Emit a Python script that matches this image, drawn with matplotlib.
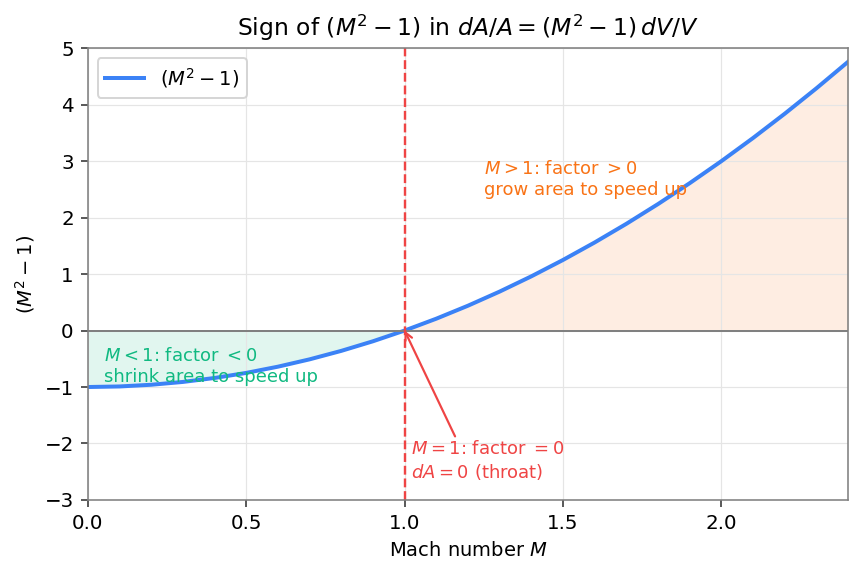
import numpy as np
import matplotlib.pyplot as plt

# Mach number samples and the factor (M^2 - 1)
mach = [0.0, 0.1, 0.2, 0.3, 0.4, 0.5, 0.6, 0.7, 0.8, 0.9, 1.0, 1.1, 1.2,
        1.3, 1.4, 1.5, 1.6, 1.7, 1.8, 1.9, 2.0, 2.1, 2.2, 2.3, 2.4]
factor = [-1.0, -0.99, -0.96, -0.91, -0.84, -0.75, -0.64, -0.51, -0.36,
          -0.19, 0.0, 0.21, 0.44, 0.69, 0.96, 1.25, 1.56, 1.89, 2.24,
          2.61, 3.0, 3.41, 3.84, 4.29, 4.76]

blue = '#3b82f6'
green = '#10b981'
orange = '#f97316'
red = '#ef4444'

x = np.array(mach)
y = np.array(factor)

fig, ax = plt.subplots(figsize=(6, 4), dpi=143.5)

ax.fill_between(x, y, 0, where=x <= 1, color=green, alpha=0.12, linewidth=0)
ax.fill_between(x, y, 0, where=x >= 1, color=orange, alpha=0.12, linewidth=0)
ax.plot(x, y, color=blue, lw=2, label=r'$(M^2-1)$')
ax.axhline(0, color='gray', lw=1)
ax.axvline(1, color=red, lw=1.2, ls='--')

ax.text(0.05, -0.63, r'$M<1$: factor $<0$' + '\nshrink area to speed up',
        color=green, fontsize=9, va='center')
ax.text(1.25, 2.68, r'$M>1$: factor $>0$' + '\ngrow area to speed up',
        color=orange, fontsize=9, va='center')
ax.annotate(r'$M=1$: factor $=0$' + '\n' + r'$dA=0$ (throat)',
            xy=(1.0, 0.0), xytext=(1.02, -2.31), color=red, fontsize=9,
            va='center',
            arrowprops=dict(arrowstyle='->', color=red, lw=1.1,
                            shrinkA=0, shrinkB=0, relpos=(0.3, 1.0)))

ax.set_xlim(0, 2.4)
ax.set_ylim(-3, 5)
ax.set_xticks([0.0, 0.5, 1.0, 1.5, 2.0])
ax.grid(True, color='#e5e5e5', lw=0.6)
for s in ax.spines.values():
    s.set_color('gray')
ax.tick_params(labelsize=10, color='#333333')
ax.set_xlabel('Mach number $M$', fontsize=9.8)
ax.set_ylabel('$(M^2-1)$', fontsize=9.8)
ax.set_title(r'Sign of $(M^2-1)$ in $dA/A=(M^2-1)\,dV/V$', fontsize=11.8)
ax.legend(loc='upper left', fontsize=9.8)

plt.subplots_adjust(left=0.102, right=0.985, top=0.916, bottom=0.129)
plt.savefig('out.png', dpi=143.5)
